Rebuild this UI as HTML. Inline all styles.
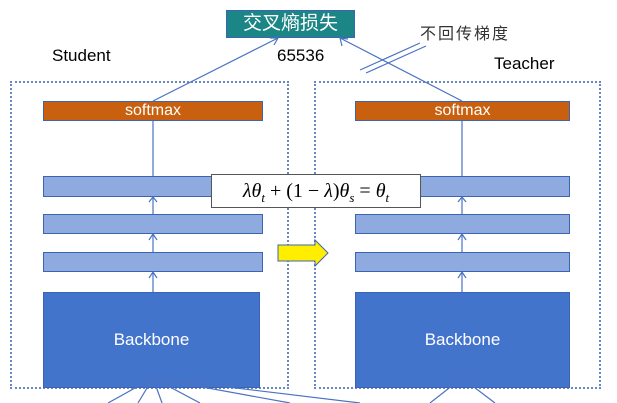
<!DOCTYPE html>
<html><head><meta charset="utf-8"><style>
body{margin:0;width:617px;height:403px;background:#fff;overflow:hidden;position:relative;font-family:"Liberation Sans","Noto Sans CJK SC",sans-serif}
.a{position:absolute;box-sizing:border-box}
.bar{background:#8eaadf;border:1.5px solid #3c64b4}
.sm{background:#c8600f;border:1.5px solid #3c64b4;color:#fff;font-size:16px;text-align:center;line-height:17px}
.bb{background:#4374cc;border:1.5px solid #3c64b4;color:#fff;font-size:17px;text-align:center;line-height:93px}
.dot{border:2px dotted #6a86c0}
</style></head><body>
<div class="a dot" style="left:10px;top:81px;width:279px;height:308px"></div>
<div class="a dot" style="left:314px;top:81px;width:287px;height:308px"></div>
<div class="a" style="left:226px;top:10px;width:129px;height:28px;background:#1c8585;border:1px solid #3c64b4;color:#fff;font-size:19px;text-align:center;line-height:26px">交叉熵损失</div>
<div class="a" style="left:420px;top:20px;font-size:16px;color:#333;letter-spacing:2px">不回传梯度</div>
<div class="a" style="left:52px;top:46px;font-size:17px">Student</div>
<div class="a" style="left:277px;top:46px;font-size:17px">65536</div>
<div class="a" style="left:494px;top:54px;font-size:17px">Teacher</div>
<div class="a sm" style="left:43px;top:101px;width:220px;height:20px">softmax</div>
<div class="a sm" style="left:355px;top:101px;width:215px;height:20px">softmax</div>
<div class="a bar" style="left:43px;top:176px;width:220px;height:21px"></div>
<div class="a bar" style="left:43px;top:214px;width:220px;height:20px"></div>
<div class="a bar" style="left:43px;top:252px;width:220px;height:20px"></div>
<div class="a bar" style="left:355px;top:176px;width:215px;height:21px"></div>
<div class="a bar" style="left:355px;top:214px;width:215px;height:20px"></div>
<div class="a bar" style="left:355px;top:252px;width:215px;height:20px"></div>
<div class="a bb" style="left:43px;top:292px;width:217px;height:96px">Backbone</div>
<div class="a bb" style="left:355px;top:292px;width:215px;height:96px">Backbone</div>
<svg class="a" style="left:0;top:0" width="617" height="403">
<g stroke="#4a72c4" stroke-width="1.2" fill="none">
<line x1="153" y1="101" x2="278" y2="38"/><polyline points="270,38 278,38 274,45"/>
<line x1="462" y1="101" x2="340" y2="38"/><polyline points="342,46 340,38 348,39"/>
<line x1="360" y1="70" x2="420" y2="43"/><line x1="366" y1="73" x2="426" y2="46"/>
<line x1="153" y1="121" x2="153" y2="176"/>
<line x1="153" y1="197" x2="153" y2="214"/><polyline points="149,202 153,197 157,202"/>
<line x1="153" y1="234" x2="153" y2="252"/><polyline points="149,240 153,234 157,240"/>
<line x1="153" y1="272" x2="153" y2="292"/><polyline points="149,278 153,272 157,278"/>
<line x1="462" y1="121" x2="462" y2="176"/>
<line x1="462" y1="197" x2="462" y2="214"/><polyline points="458,202 462,197 466,202"/>
<line x1="462" y1="234" x2="462" y2="252"/><polyline points="458,240 462,234 466,240"/>
<line x1="462" y1="272" x2="462" y2="292"/><polyline points="458,278 462,272 466,278"/>
<line x1="153" y1="378" x2="108" y2="403"/><line x1="153" y1="378" x2="138" y2="403"/>
<line x1="153" y1="378" x2="162" y2="403"/><line x1="153" y1="378" x2="200" y2="403"/>
<line x1="153" y1="378" x2="290" y2="403"/><line x1="153" y1="378" x2="360" y2="403"/>
<line x1="462" y1="378" x2="430" y2="403"/><line x1="462" y1="378" x2="495" y2="403"/>
</g>
<polygon points="278,245 315,245 315,240 328,253 315,266 315,261 278,261" fill="#ffee00" stroke="#3c64b4" stroke-width="1"/>
</svg>
<div class="a" style="left:211px;top:174px;width:210px;height:34px;background:#fff;border:1px solid #555;font-family:'Liberation Serif',serif;font-size:20px;text-align:center;line-height:32px"><i>λθ<sub style="font-size:13px">t</sub></i> + (1 − <i>λ</i>)<i>θ<sub style="font-size:13px">s</sub></i> = <i>θ<sub style="font-size:13px">t</sub></i></div>
</body></html>
